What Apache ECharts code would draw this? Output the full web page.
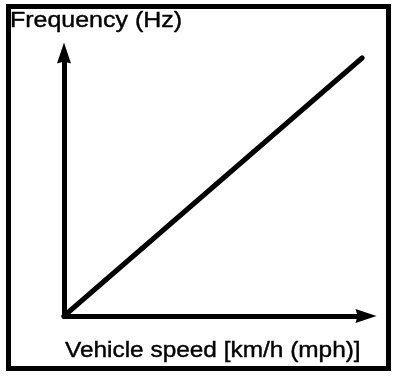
<!DOCTYPE html>
<html>
<head>
<meta charset="utf-8">
<script src="https://cdn.jsdelivr.net/npm/echarts@6/dist/echarts.min.js"></script>
<style>html,body{margin:0;padding:0;background:#fff;}#c{width:400px;height:378px;}</style>
</head>
<body>
<div id="c"></div>
<script>
// Schematic: frequency rises linearly with vehicle speed (no numeric ticks)
var speed = [0, 98.7];
var frequency = [0, 98.1];
var yTitle = 'Frequency (Hz)';
var xTitle = 'Vehicle speed [km/h (mph)]';

var chart = echarts.init(document.getElementById('c'), null, {renderer: 'canvas'});
var pts = speed.map(function (s, i) { return [s, frequency[i]]; });
var font = '"Liberation Sans", Arial, Helvetica, sans-serif';
var arrowPath = 'path://M10,0 L20,30 L10,27 L0,30 Z';
function txt(t, x, y, sx) {
  return {
    type: 'text', x: x, y: y, scaleX: sx, scaleY: 1, silent: true, z: 110,
    style: {text: t, fill: '#000', font: 'normal 22px ' + font, verticalAlign: 'top', align: 'left',
      stroke: '#000', lineWidth: 0.4}
  };
}
chart.setOption({
  animation: false,
  backgroundColor: '#fff',
  grid: {left: 64, right: 34, top: 53, bottom: 62, containLabel: false},
  xAxis: {
    type: 'value', min: 0, max: 100,
    axisLine: {show: true, onZero: false, symbol: ['none', arrowPath], symbolSize: [14, 22],
      lineStyle: {color: '#000', width: 5}},
    axisTick: {show: false}, axisLabel: {show: false}, splitLine: {show: false}
  },
  yAxis: {
    type: 'value', min: 0, max: 100,
    axisLine: {show: true, onZero: false, symbol: ['none', arrowPath], symbolSize: [14, 22],
      lineStyle: {color: '#000', width: 5}},
    axisTick: {show: false}, axisLabel: {show: false}, splitLine: {show: false}
  },
  series: [{
    type: 'line', data: pts, showSymbol: false, silent: true,
    lineStyle: {color: '#000', width: 5, cap: 'round'}
  }],
  graphic: [
    {type: 'rect', shape: {x: 8.5, y: 6.5, width: 380, height: 362},
     style: {fill: null, stroke: '#000', lineWidth: 5}, silent: true, z: 100},
    txt(yTitle, 10, 9.5, 1.135),
    txt(xTitle, 65, 339.5, 1.109)
  ]
});
</script>
</body>
</html>
